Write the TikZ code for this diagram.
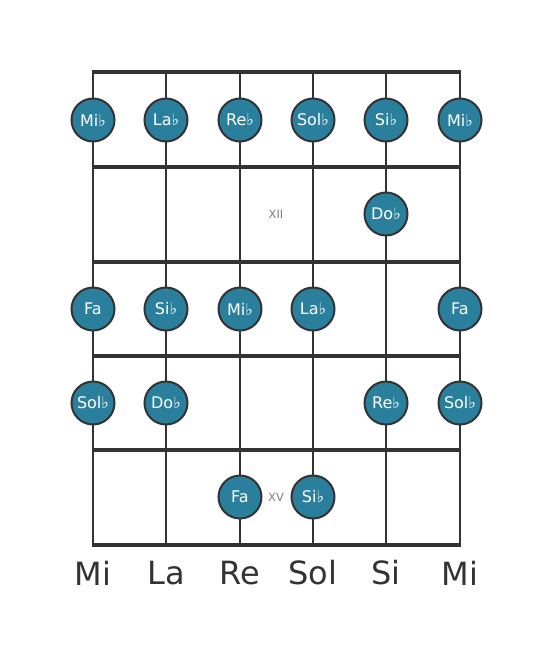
\documentclass[tikz,border=0pt]{standalone}
\usepackage{fontspec}
\setmainfont{DejaVu Sans}
\definecolor{notefill}{HTML}{2A7F9C}
\definecolor{wire}{HTML}{333333}
\tikzset{
  note/.style={circle,draw=wire,line width=2pt,fill=notefill,minimum size=43pt,inner sep=0pt,text=white,font=\fontsize{16}{16}\selectfont},
  fretline/.style={draw=wire,line width=4.5pt},
  stringline/.style={draw=wire,line width=2.8pt},
  openname/.style={text=wire,font=\fontsize{32}{32}\selectfont},
  fretmark/.style={text=gray,font=\fontsize{11.5}{11.5}\selectfont}
}
\begin{document}
\begin{tikzpicture}[x=1pt,y=-1pt]
  \useasboundingbox (0,0) rectangle (553,656);
  % strings
  \foreach \s/\x in {1/93,2/166,3/240,4/313,5/386,6/460}{
    \coordinate (s\s t) at (\x,72);
    \coordinate (s\s b) at (\x,545);
    \draw[stringline] (s\s t) -- (s\s b);
  }
  % frets
  \foreach \f/\y in {0/72,1/167,2/262,3/356,4/450,5/545}{
    \coordinate (f\f l) at (91.6,\y);
    \coordinate (f\f r) at (461.4,\y);
    \draw[fretline] (f\f l) -- (f\f r);
  }
  % fret numbers
  \node[fretmark] (xii) at (276,214) {XII};
  \node[fretmark] (xv) at (276,497) {XV};
  % notes
  \foreach \n/\x/\y/\t in {
    a1/93/120/Mi♭, a2/166/120/La♭, a3/240/120/Re♭, a4/313/120/Sol♭, a5/386/120/Si♭, a6/460/120/Mi♭,
    b5/386/214/Do♭,
    c1/93/309/Fa, c2/166/309/Si♭, c3/240/309/Mi♭, c4/313/309/La♭, c6/460/309/Fa,
    d1/93/403/Sol♭, d2/166/403/Do♭, d5/386/403/Re♭, d6/460/403/Sol♭,
    e3/240/497/Fa, e4/313/497/Si♭}
    \node[note] (\n) at (\x,\y) {\t};
  % open strings
  \foreach \s/\x/\t in {1/93/Mi,2/166/La,3/240/Re,4/313/Sol,5/386/Si,6/460/Mi}
    \node[openname] (o\s) at (\x,573) {\t};
\end{tikzpicture}
\end{document}
